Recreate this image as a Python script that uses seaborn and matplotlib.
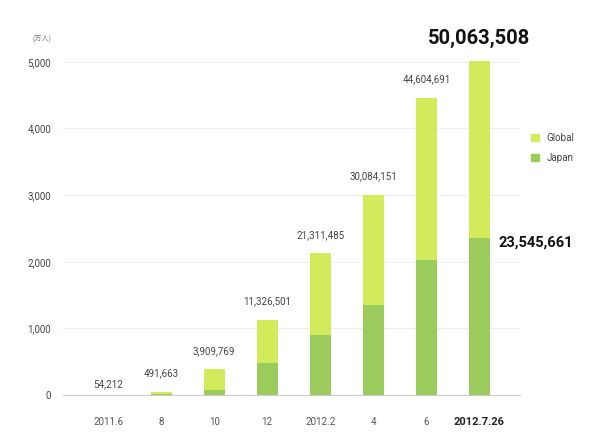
import seaborn as sns
import pandas as pd
import matplotlib.pyplot as plt
from matplotlib.patches import Patch

# data (万人 = 10k users)
months = ["2011.6", "8", "10", "12", "2012.2", "4", "6", "2012.7.26"]
totals = [5.42, 49.17, 390.98, 1132.65, 2131.15, 3008.42, 4460.47, 5006.35]
japan = [3.0, 15, 75, 485, 900, 1347, 2027, 2354.57]
total_labels = ["54,212", "491,663", "3,909,769", "11,326,501", "21,311,485",
				"30,084,151", "44,604,691", "50,063,508"]
japan_last_label = "23,545,661"

GLOBAL_C = "#d3ea5b"
JAPAN_C = "#9bcb5a"

sns.set_theme(style="white")
plt.rcParams['font.family'] = ['Roboto', 'Noto Sans CJK JP', 'DejaVu Sans']

df = pd.DataFrame({"month": months, "total": totals, "japan": japan})

fig = plt.figure(figsize=(6, 4.48), dpi=100)
ax = fig.add_axes([0.105, 0.118, 0.762, 0.744])

sns.barplot(data=df, x="month", y="total", order=months, color=GLOBAL_C,
			width=0.4, saturation=1, linewidth=0, ax=ax)
sns.barplot(data=df, x="month", y="japan", order=months, color=JAPAN_C,
			width=0.4, saturation=1, linewidth=0, ax=ax)
for p in ax.patches:
	p.set_clip_on(False)

ax.set_xlim(-0.85, 7.77)
ax.set_ylim(0, 5000)
ax.set_yticks([0, 1000, 2000, 3000, 4000, 5000])
ax.set_yticklabels(["0", "1,000", "2,000", "3,000", "4,000", "5,000"])
ax.yaxis.grid(True, color="#eeeeee", linewidth=0.8)
ax.set_axisbelow(True)
for s in ["top", "right", "left"]:
	ax.spines[s].set_visible(False)
ax.spines["bottom"].set_color("#cccccc")
ax.spines["bottom"].set_linewidth(0.8)
ax.set_xlabel("")
ax.set_ylabel("")
ax.tick_params(axis="y", length=0, pad=8.5, labelsize=7, labelcolor="#444444")
ax.tick_params(axis="x", length=0, pad=16, labelsize=7, labelcolor="#555555")
last = ax.get_xticklabels()[-1]
last.set_fontweight("bold")
last.set_color("#222222")
last.set_fontsize(8)

# value labels above bars
for i, (t, lab) in enumerate(zip(totals, total_labels)):
	if i == len(totals) - 1:
		continue
	off = 90 if i == 0 else 200
	ax.text(i, t + off, lab, ha="center", va="bottom", fontsize=7, color="#444444")
ax.text(7, 5210, total_labels[-1], ha="center", va="bottom", fontsize=14.5,
		fontweight="bold", color="#111111", clip_on=False)
ax.text(7.37, 2290, japan_last_label, ha="left", va="center", fontsize=10.5,
		fontweight="bold", color="#111111", clip_on=False)

fig.text(0.07, 0.915, "(万人)", ha="center", va="center", fontsize=5, color="#777777")

handles = [Patch(color=GLOBAL_C, label="Global"), Patch(color=JAPAN_C, label="Japan")]
fig.legend(handles=handles, loc="center left", bbox_to_anchor=(0.87, 0.67),
		   frameon=False, fontsize=7, handlelength=0.8, handleheight=0.8,
		   labelcolor="#444444", labelspacing=1.0)

fig.savefig("out.png", dpi=100)
